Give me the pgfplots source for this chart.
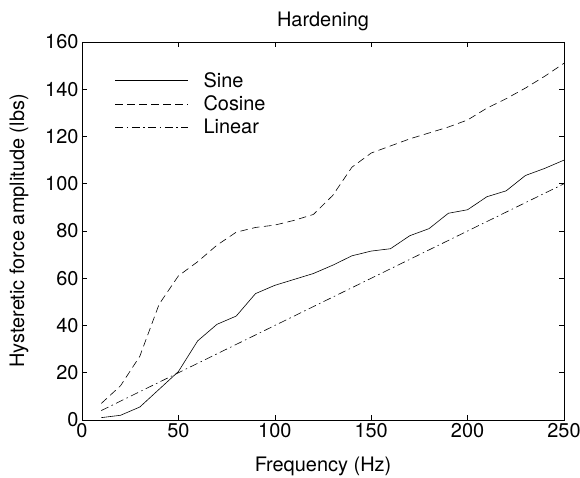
\documentclass[border=0pt]{standalone}
\usepackage{pgfplots}
\pgfplotsset{compat=1.18}
\usepackage{fontspec}
\setmainfont{TeX Gyre Heros}
\begin{document}
\begin{tikzpicture}
\begin{axis}[
  name=ax,
  scale only axis,
  width=482bp, height=378bp,
  xmin=0, xmax=250, ymin=0, ymax=160,
  xtick={0,50,100,150,200,250},
  ytick={0,20,40,60,80,100,120,140,160},
  tick align=inside,
  major tick length=5bp,
  /pgf/number format/assume math mode=true,
  tick label style={font=\fontsize{20}{24}\selectfont},
  label style={font=\fontsize{20}{24}\selectfont},
  title style={font=\fontsize{20}{24}\selectfont, yshift=2bp},
  title={Hardening},
  xlabel={Frequency (Hz)},
  ylabel={Hysteretic force amplitude (lbs)},
  xlabel style={yshift=-12bp},
  ylabel style={yshift=10bp},
  axis line style={line width=0.8pt},
  every tick/.style={line width=0.6pt, black},
  legend style={draw=none, fill=none, at={(0.068,0.925)}, anchor=north west,
    font=\fontsize{20}{24}\selectfont, row sep=3bp, inner sep=0pt,
    nodes={inner sep=2bp},
    cells={anchor=west}},
  legend image code/.code={\draw[#1] (0bp,0bp) -- (73bp,0bp);},
]
\addplot[black, line width=0.6pt] coordinates {
(10,1) (20,2) (30,5.5) (40,13) (50,20.5) (60,33.5) (70,40.5) (80,44) (90,53.5) (100,57)
(110,59.5) (120,62) (130,65.5) (140,69.5) (150,71.5) (160,72.5) (170,78) (180,81) (190,87.5) (200,89)
(210,94.5) (220,97) (230,103.5) (240,106.5) (250,110)};
\addlegendentry{\hspace{13bp}Sine}
\addplot[black, line width=0.6pt, dash pattern=on 7.5bp off 4.5bp] coordinates {
(10,7) (20,14.5) (30,27) (40,49) (50,61) (60,67) (70,74) (80,79.5) (90,81.5) (100,82.5)
(110,84.5) (120,87) (130,95) (140,107) (150,113) (160,116) (170,119) (180,121.5) (190,124) (200,127)
(210,132) (220,136) (230,140.5) (240,145.5) (250,151)};
\addlegendentry{\hspace{13bp}Cosine}
\addplot[black, line width=0.6pt, dash pattern=on 8bp off 3.5bp on 1.5bp off 3.5bp] coordinates {
(10,4) (20,8) (30,12) (40,16) (50,20) (60,24) (70,28) (80,32) (90,36) (100,40)
(110,44) (120,48) (130,52) (140,56) (150,60) (160,64) (170,68) (180,72) (190,76) (200,80)
(210,84) (220,88) (230,92) (240,96) (250,100)};
\addlegendentry{\hspace{13bp}Linear}
\end{axis}
\pgfresetboundingbox
\path (ax.south west) ++(-82bp,-58bp) coordinate (bl);
\path (ax.north east) ++(16bp,42bp) coordinate (tr);
\path[use as bounding box] (bl) rectangle (tr);
\end{tikzpicture}
\end{document}
